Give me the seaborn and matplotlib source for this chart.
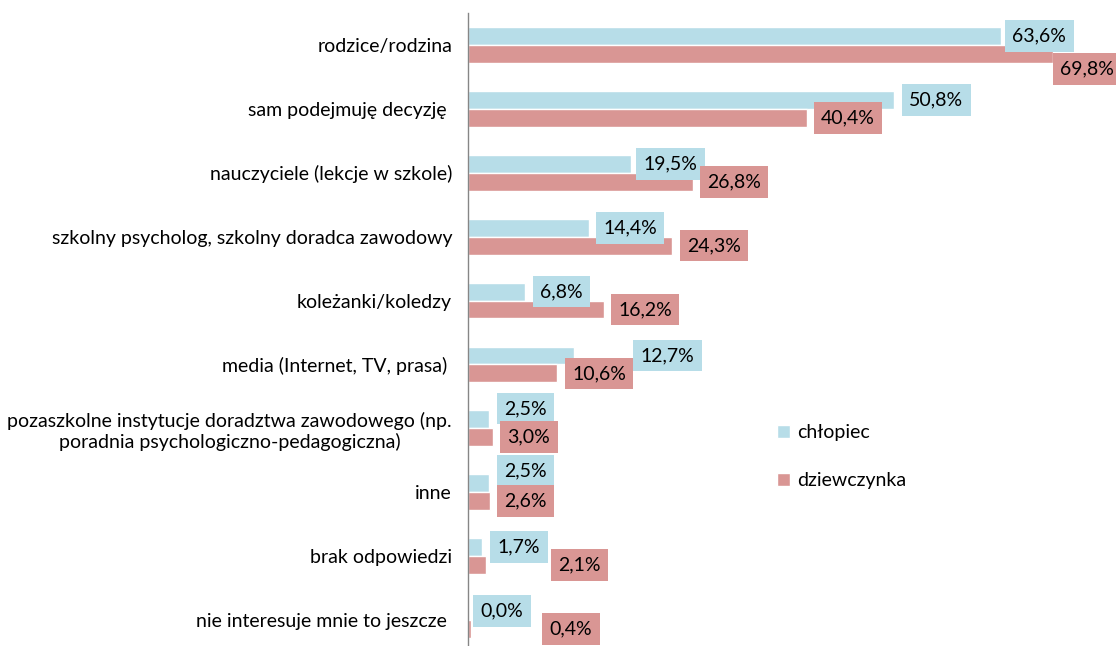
import matplotlib
matplotlib.use("Agg")
import matplotlib.pyplot as plt
import seaborn as sns
import pandas as pd
import numpy as np

categories = [
    "rodzice/rodzina",
    "sam podejmuję decyzję ",
    "nauczyciele (lekcje w szkole)",
    "szkolny psycholog, szkolny doradca zawodowy",
    "koleżanki/koledzy",
    "media (Internet, TV, prasa) ",
    "pozaszkolne instytucje doradztwa zawodowego (np.\nporadnia psychologiczno-pedagogiczna)",
    "inne",
    "brak odpowiedzi",
    "nie interesuje mnie to jeszcze ",
]
series_names = ["chłopiec", "dziewczynka"]
chlopiec = [63.6, 50.8, 19.5, 14.4, 6.8, 12.7, 2.5, 2.5, 1.7, 0.0]
dziewczynka = [69.8, 40.4, 26.8, 24.3, 16.2, 10.6, 3.0, 2.6, 2.1, 0.4]

# label box offsets in pixels (gap from bar end to box, vertical shift)
lab_dx = [[4, 8, 5, 7, 8, 59, 8, 8, 8, 5],
          [0, 7, 7, 8, 7, 8, 7, 7, 65, 71]]
lab_dy = [[0, 0, 0, 0, 0, 0, -11, -12, 0, 0],
          [15, 0, 0, 0, 0, 0, 0, 0, 0, 0]]

colors = ["#B7DDE8", "#D99694"]

df = pd.DataFrame({
    "kategoria": categories * 2,
    "płeć": [series_names[0]] * len(categories) + [series_names[1]] * len(categories),
    "wartość": chlopiec + dziewczynka,
})

sns.set_theme(style="white")
plt.rcParams["font.family"] = ["Lato", "DejaVu Sans"]
plt.rcParams["text.color"] = "#000000"

FS = 14
W, H = 1116, 646
fig = plt.figure(figsize=(W / 100, H / 100), dpi=100)
left_px, top_px, band_px = 468, 13, 63.9
ax_h_px = band_px * len(categories)
ax = fig.add_axes([left_px / W, 1 - (top_px + ax_h_px) / H, (W - left_px) / W, ax_h_px / H])

sns.barplot(data=df, y="kategoria", x="wartość", hue="płeć", order=categories,
            hue_order=series_names, palette=colors, orient="h", width=0.56,
            gap=0, saturation=1, ax=ax, legend=True, errorbar=None)

px_per_pct = 8.38
ax.set_xlim(0, (W - left_px) / px_per_pct)
ax.set_ylim(len(categories) - 0.5, -0.5)

ax.set_xlabel("")
ax.set_ylabel("")
ax.set_xticks([])
for s in ["top", "right", "bottom"]:
    ax.spines[s].set_visible(False)
ax.spines["left"].set_color("#868686")
ax.spines["left"].set_linewidth(1)

ax.set_yticks(range(len(categories)))
ax.set_yticklabels(categories, fontsize=FS, color="#000000", multialignment="center")
ax.tick_params(axis="y", which="major", length=0, pad=11.5)
ax.set_yticks(np.arange(-0.5, len(categories) + 0.5, 1), minor=True)
ax.tick_params(axis="y", which="minor", length=4, width=1, color="#868686", direction="out")

pt = 0.72
PAD = 0.38
pad_px = PAD * FS / pt
for si, cont in enumerate(ax.containers):
    for ci, bar in enumerate(cont):
        val = bar.get_width()
        yc = bar.get_y() + bar.get_height() / 2
        txt = f"{val:.1f}%".replace(".", ",")
        ax.annotate(txt, xy=(val, yc), xytext=((lab_dx[si][ci] + pad_px) * pt, -lab_dy[si][ci] * pt),
                    textcoords="offset points", ha="left", va="center", fontsize=FS,
                    color="#000000", annotation_clip=False,
                    bbox=dict(boxstyle=f"square,pad={PAD}", fc=colors[si], ec="none"))

leg = ax.get_legend()
handles = leg.legend_handles
leg.remove()
fig.legend(handles, series_names, loc="upper left",
           bbox_to_anchor=(777 / W, 1 - 424 / H), frameon=False, fontsize=FS,
           labelcolor="#000000",
           handlelength=0.65, handleheight=0.65, handletextpad=0.4, labelspacing=1.6,
           borderaxespad=0, borderpad=0)

fig.savefig("out.png", dpi=100)
